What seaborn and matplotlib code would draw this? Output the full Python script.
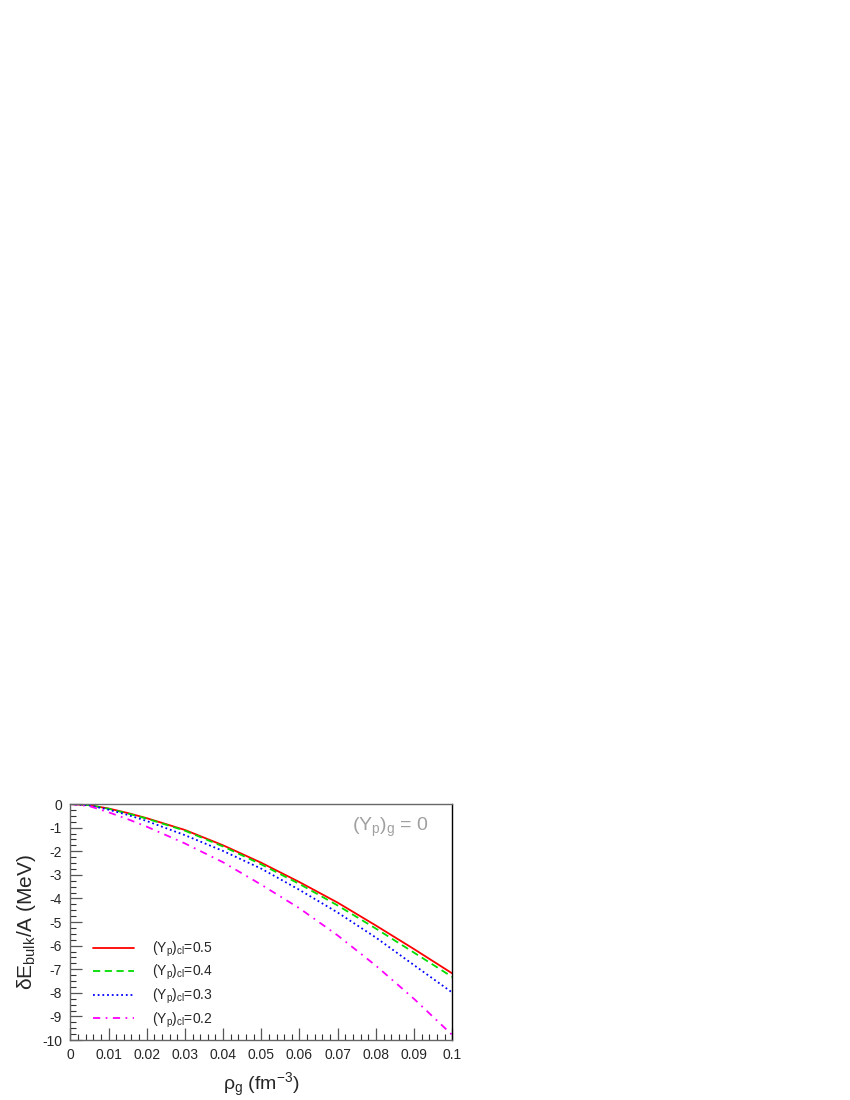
import matplotlib
matplotlib.use('Agg')
import matplotlib.pyplot as plt
import seaborn as sns
from matplotlib.ticker import MultipleLocator, FixedLocator, FixedFormatter

# densidade do gas (fm^-3)
rho_g = [0, 0.005, 0.01, 0.015, 0.02, 0.03, 0.04, 0.05, 0.06, 0.07, 0.08, 0.09, 0.1]

# dE_bulk/A (MeV) para cada (Yp)_cl
e_yp05 = [0, -0.05, -0.19, -0.38, -0.60, -1.10, -1.75, -2.49, -3.31, -4.18, -5.15, -6.15, -7.18]
e_yp04 = [0, -0.05, -0.20, -0.40, -0.62, -1.13, -1.80, -2.56, -3.39, -4.30, -5.28, -6.30, -7.33]
e_yp03 = [0, -0.06, -0.24, -0.46, -0.72, -1.32, -1.99, -2.74, -3.64, -4.60, -5.66, -6.83, -7.99]
e_yp02 = [0, -0.09, -0.35, -0.64, -0.96, -1.67, -2.47, -3.42, -4.42, -5.57, -6.85, -8.26, -9.79]

labels = [r'$(Y_p)_{cl}$=0.5', r'$(Y_p)_{cl}$=0.4', r'$(Y_p)_{cl}$=0.3', r'$(Y_p)_{cl}$=0.2']
cores = ['#ff0000', '#00dd00', '#0000ff', '#ff00ff']
estilos = ['-', (0, (4, 2.5)), (0, (1, 1.6)), (0, (4, 3, 1, 3))]

xticks = [0, 0.01, 0.02, 0.03, 0.04, 0.05, 0.06, 0.07, 0.08, 0.09, 0.1]
xtick_labels = ['0', '0.01', '0.02', '0.03', '0.04', '0.05', '0.06', '0.07', '0.08', '0.09', '0.1']
yticks = [0, -1, -2, -3, -4, -5, -6, -7, -8, -9, -10]

sns.set_style('ticks')
plt.rcParams['font.family'] = ['Liberation Sans', 'DejaVu Sans']
plt.rcParams['mathtext.fontset'] = 'custom'
plt.rcParams['mathtext.rm'] = 'Liberation Sans'
plt.rcParams['mathtext.it'] = 'Liberation Sans'
plt.rcParams['mathtext.default'] = 'regular'
plt.rcParams['axes.unicode_minus'] = False

fig = plt.figure(figsize=(8.5, 11), dpi=100)
ax = fig.add_axes([70.3 / 850, 60 / 1100, 382 / 850, 236 / 1100])

series = [e_yp05, e_yp04, e_yp03, e_yp02]
for valores, cor, estilo, lab in zip(series, cores, estilos, labels):
    sns.lineplot(x=rho_g, y=valores, ax=ax, color=cor, linewidth=1.3,
                 linestyle=estilo, label=lab)

ax.set_xlim(0, 0.1)
ax.set_ylim(-10, 0)
ax.xaxis.set_major_locator(FixedLocator(xticks))
ax.xaxis.set_major_formatter(FixedFormatter(xtick_labels))
ax.xaxis.set_minor_locator(MultipleLocator(0.002))
ax.yaxis.set_major_locator(FixedLocator(yticks))
ax.yaxis.set_minor_locator(MultipleLocator(0.25))

ax.tick_params(which='major', direction='in', length=8.6, width=0.9, color='#555555',
               labelsize=10, pad=6)
ax.tick_params(which='minor', direction='in', length=4.6, width=0.8, color='#333333')
ax.tick_params(axis='x', which='both', top=False)
ax.tick_params(axis='y', which='both', right=False)

for lado in ['left', 'bottom', 'top']:
    ax.spines[lado].set_color('#666666')
    ax.spines[lado].set_linewidth(1.0)
ax.spines['right'].set_color('black')
ax.spines['right'].set_linewidth(1.0)

ax.set_xlabel(r'$\rho_g$ (fm$^{-3}$)', fontsize=14)
ax.set_ylabel(r'$\delta E_{bulk}$/A (MeV)', fontsize=15)
ax.xaxis.set_label_coords(0.5, -0.13)
ax.yaxis.set_label_coords(-0.085, 0.5)

ax.text(0.837, 0.90, r'$(Y_p)_g$ = 0', transform=ax.transAxes, fontsize=14,
        color='#a0a0a0', ha='center', va='center')

ax.legend(loc='upper left', bbox_to_anchor=(0.04, 0.455), frameon=False,
          fontsize=10, handlelength=3.0, handletextpad=1.3, labelspacing=0.31,
          borderpad=0)

fig.savefig('out.png', dpi=100)
